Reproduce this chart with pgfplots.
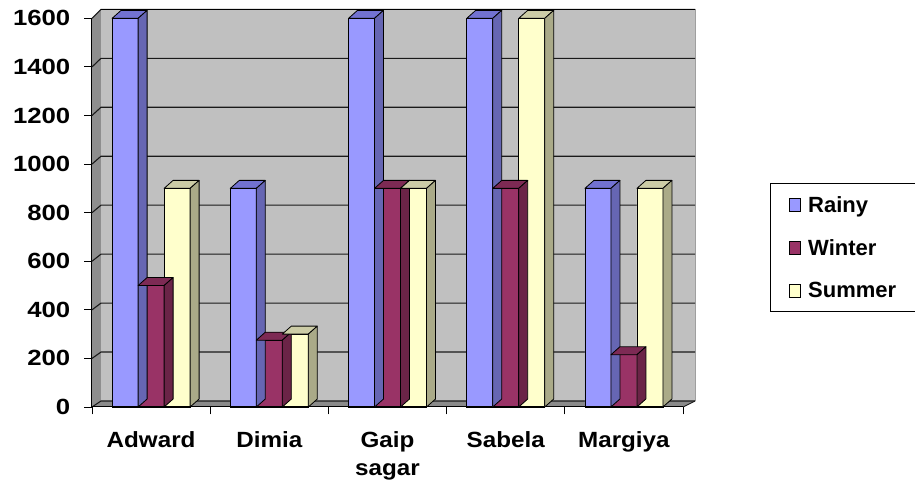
\documentclass[border=0pt]{standalone}
\usepackage{fontspec}
\setmainfont{Liberation Sans}
\newfontfamily\tickfont{Liberation Sans}[FakeStretch=1.17]
\newfontfamily\catfont{Liberation Sans}[FakeStretch=1.1]
\usepackage{pgfplots}
\usepackage{pgfplotstable}
\pgfplotsset{compat=1.18}

% series colours: front face, top face, side face
\definecolor{rainy}{HTML}{9999FF}
\definecolor{rainytop}{HTML}{7272D1}
\definecolor{rainyside}{HTML}{6666B3}
\definecolor{winter}{HTML}{993366}
\definecolor{wintertop}{HTML}{7D2A54}
\definecolor{winterside}{HTML}{6B2447}
\definecolor{summer}{HTML}{FFFFCC}
\definecolor{summertop}{HTML}{CCCCA6}
\definecolor{summerside}{HTML}{AAAA88}
% walls
\definecolor{backwall}{HTML}{C0C0C0}
\definecolor{sidewall}{HTML}{8E8E8E}
\definecolor{floorc}{HTML}{8A8A8A}
\definecolor{gridc}{HTML}{1A1A1A}

\pgfplotstableread{
cat Rainy Winter Summer
0   1600  500    900
1   900   275    300
2   1600  900    900
3   1600  900    1600
4   900   215    900
}\rainfall

% depth faces of one column, drawn from its top point
% #1 bar shift (pt), #2 top colour, #3 side colour; \barval = column value
\newcommand\boxfaces[3]{%
  \pgfmathsetmacro\xl{#1-13}%
  \pgfmathsetmacro\xr{#1+13}%
  \pgfmathsetmacro\hh{\barval*0.2429}%
  \filldraw[fill=#2,draw=black,line width=0.8pt,line join=round]
    (\xl pt,0pt) -- (\xr pt,0pt) -- (\xr pt+9pt,8pt) -- (\xl pt+9pt,8pt) -- cycle;
  \filldraw[fill=#3,draw=black,line width=0.8pt,line join=round]
    (\xr pt,0pt) -- (\xr pt+9pt,8pt) -- (\xr pt+9pt,8pt-\hh pt) -- (\xr pt,-\hh pt) -- cycle;
}
\pgfdeclareplotmark{rainybox}{\boxfaces{-26}{rainytop}{rainyside}}
\pgfdeclareplotmark{winterbox}{\boxfaces{0}{wintertop}{winterside}}
\pgfdeclareplotmark{summerbox}{\boxfaces{26}{summertop}{summerside}}

\pgfplotsset{
  faces/.style={scatter, only marks, forget plot,
    visualization depends on={rawy \as \barval},
    scatter/@pre marker code/.code={}, scatter/@post marker code/.code={}},
}

\begin{document}
\begin{tikzpicture}
\path[use as bounding box] (0,0) rectangle (915pt,489pt);
\begin{axis}[
  at={(92pt,82pt)}, anchor=south west,
  x=118.2pt, y=0.2429pt,
  xmin=-0.5, xmax=4.5, ymin=0, ymax=1600,
  enlargelimits=false, clip=false,
  axis lines*=left, axis on top,
  axis line style={black, line width=1pt},
  tick align=outside,
  tick style={black, line width=0.9pt},
  major tick length=7.5pt,
  xtick={-0.5,0.5,1.5,2.5,3.5,4.5},
  xticklabels={},
  extra x ticks={0,1,2,3,4},
  extra x tick labels={Adward,Dimia,{Gaip\\sagar},Sabela,Margiya},
  extra x tick style={major tick length=0pt,
    tick label style={font=\catfont\bfseries\fontsize{22}{28}\selectfont,
      align=center, inner sep=0pt, anchor=north, yshift=-24pt}},
  ytick={0,200,...,1600},
  yticklabel style={font=\tickfont\bfseries\fontsize{22}{28}\selectfont,
    inner sep=0pt, anchor=east, xshift=-14pt},
  /pgf/number format/assume math mode=true,
  /pgf/number format/1000 sep={},
  legend cell align=left,
  legend style={at={(axis description cs:1.1472,0.5763)}, anchor=north west,
    draw=black, line width=0.8pt, fill=white,
    font=\bfseries\fontsize{22}{26}\selectfont,
    inner xsep=19pt, inner ysep=13pt, row sep=26.75pt,
    nodes={inner sep=0pt, text height=16pt, text depth=0pt},
    /tikz/every odd column/.append style={column sep=7pt}},
]
% left side wall, back wall and floor
\fill[sidewall] (axis cs:-0.5,0) -- (axis cs:-0.5,1600)
  -- ([xshift=9pt,yshift=9pt]axis cs:-0.5,1600)
  -- ([xshift=9pt,yshift=6pt]axis cs:-0.5,0) -- cycle;
\fill[backwall] ([xshift=9pt,yshift=6pt]axis cs:-0.5,0)
  -- ([xshift=12pt,yshift=6pt]axis cs:4.5,0)
  -- ([xshift=12pt,yshift=9pt]axis cs:4.5,1600)
  -- ([xshift=9pt,yshift=9pt]axis cs:-0.5,1600) -- cycle;
\fill[floorc] (axis cs:-0.5,0) -- (axis cs:4.5,0)
  -- ([xshift=12pt,yshift=6pt]axis cs:4.5,0)
  -- ([xshift=9pt,yshift=6pt]axis cs:-0.5,0) -- cycle;
\draw[gray!75, line width=1pt] ([xshift=12pt,yshift=6pt]axis cs:4.5,0)
  -- ([xshift=12pt,yshift=9pt]axis cs:4.5,1600);
\draw[gridc, line width=0.9pt] (axis cs:4.5,0) -- ([xshift=12pt,yshift=6pt]axis cs:4.5,0);
% gridlines running over the side wall and the back wall
\pgfplotsinvokeforeach{0,200,...,1600}{
  \draw[gridc, line width=1.1pt]
    (axis cs:-0.5,#1) -- ([xshift=9pt,yshift={6pt+#1*0.001875pt}]axis cs:-0.5,#1)
    -- ([xshift=12pt,yshift={6pt+#1*0.001875pt}]axis cs:4.5,#1);
}
\draw[black, line width=1.6pt] ([xshift=9pt,yshift=9pt]axis cs:-0.5,1600)
  -- ([xshift=12pt,yshift=9pt]axis cs:4.5,1600);

\addplot[ybar, bar width=26pt, bar shift=-26pt, fill=rainy, draw=black, line width=0.8pt,
  legend image code/.code={\filldraw[fill=rainy,draw=black,line width=0.8pt] (0pt,-7pt) rectangle (11pt,6pt);}]
  table[x=cat, y=Rainy] {\rainfall};
\addlegendentry{Rainy}
\addplot[faces, mark=rainybox] table[x=cat, y=Rainy] {\rainfall};

\addplot[ybar, bar width=26pt, bar shift=0pt, fill=winter, draw=black, line width=0.8pt,
  legend image code/.code={\filldraw[fill=winter,draw=black,line width=0.8pt] (0pt,-7pt) rectangle (11pt,6pt);}]
  table[x=cat, y=Winter] {\rainfall};
\addlegendentry{Winter}
\addplot[faces, mark=winterbox] table[x=cat, y=Winter] {\rainfall};

\addplot[ybar, bar width=26pt, bar shift=26pt, fill=summer, draw=black, line width=0.8pt,
  legend image code/.code={\filldraw[fill=summer,draw=black,line width=0.8pt] (0pt,-7pt) rectangle (11pt,6pt);}]
  table[x=cat, y=Summer] {\rainfall};
\addlegendentry{Summer}
\addplot[faces, mark=summerbox] table[x=cat, y=Summer] {\rainfall};
\end{axis}
\end{tikzpicture}
\end{document}
